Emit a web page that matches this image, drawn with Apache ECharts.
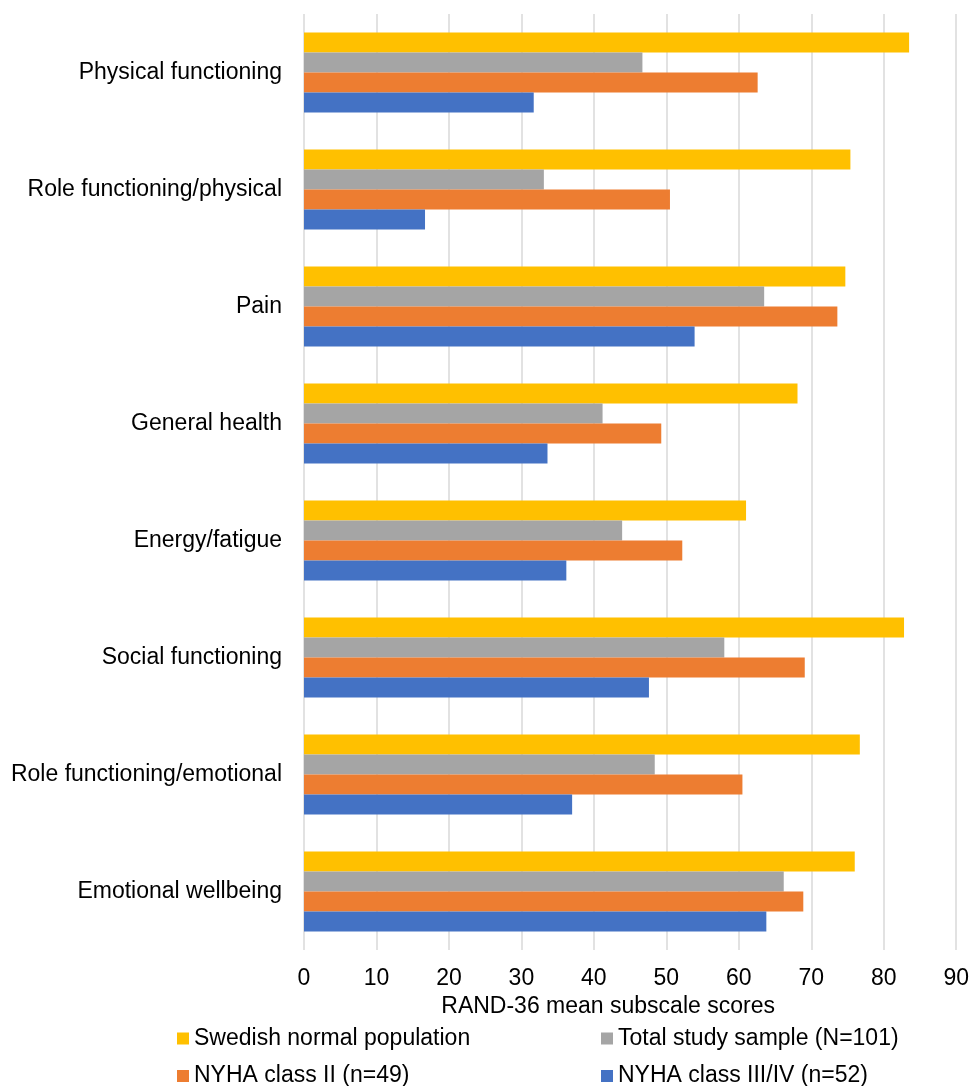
<!DOCTYPE html>
<html>
<head>
<meta charset="utf-8">
<script src="https://cdn.jsdelivr.net/npm/echarts@6/dist/echarts.min.js"></script>
<style>
html,body{margin:0;padding:0;background:#fff;}
#chart{width:972px;height:1086px;}
</style>
</head>
<body>
<div id="chart"></div>
<script>
const categories = [
  'Physical functioning',
  'Role functioning/physical',
  'Pain',
  'General health',
  'Energy/fatigue',
  'Social functioning',
  'Role functioning/emotional',
  'Emotional wellbeing'
];
const seriesNames = [
  'Swedish normal population',
  'Total study sample (N=101)',
  'NYHA class II (n=49)',
  'NYHA class III/IV (n=52)'
];
const swedishNormal = [83.5, 75.4, 74.7, 68.1, 61.0, 82.8, 76.7, 76.0];
const totalSample   = [46.7, 33.1, 63.5, 41.2, 43.9, 58.0, 48.4, 66.2];
const nyhaII        = [62.6, 50.5, 73.6, 49.3, 52.2, 69.1, 60.5, 68.9];
const nyhaIIIIV     = [31.7, 16.7, 53.9, 33.6, 36.2, 47.6, 37.0, 63.8];
const xTicks = [0, 10, 20, 30, 40, 50, 60, 70, 80, 90];
const colors = ['#FFC000', '#A5A5A5', '#ED7D31', '#4472C4'];
const values = [swedishNormal, totalSample, nyhaII, nyhaIIIIV];

const font = 'Liberation Sans, Arial, sans-serif';
const FS = 23;
const legendPos = [
  { left: 177, top: 1027 },
  { left: 601, top: 1027 },
  { left: 177, top: 1064.5 },
  { left: 601, top: 1064.5 }
];
const chart = echarts.init(document.getElementById('chart'));
chart.setOption({
  animation: false,
  textStyle: { fontFamily: font },
  grid: { left: 304, right: 14, top: 14, bottom: 136, containLabel: false },
  legend: seriesNames.map((n, i) => ({
    data: [n],
    left: legendPos[i].left, top: legendPos[i].top, padding: 0,
    icon: 'rect', itemWidth: 12, itemHeight: 12,
    textStyle: { fontSize: FS, color: '#000', fontFamily: font, lineHeight: FS, padding: [0, 0, 0, 0] }
  })),
  xAxis: {
    type: 'value', min: xTicks[0], max: xTicks[xTicks.length - 1], interval: 10,
    name: 'RAND-36 mean subscale scores',
    nameLocation: 'middle', nameGap: 39.5,
    nameTextStyle: { fontSize: FS, color: '#000', fontFamily: font, lineHeight: FS, padding: [0, 44, 0, 0] },
    axisLine: { show: false }, axisTick: { show: false },
    axisLabel: { fontSize: FS, color: '#000', margin: 17, lineHeight: FS, fontFamily: font },
    splitLine: { show: true, lineStyle: { color: '#D9D9D9', width: 1.5 } }
  },
  yAxis: {
    type: 'category', data: categories, inverse: true,
    axisLine: { show: false }, axisTick: { show: false },
    axisLabel: { fontSize: FS, color: '#000', margin: 22, fontFamily: font },
    splitLine: { show: false }
  },
  series: seriesNames.map((n, i) => ({
    name: n, type: 'bar', data: values[i],
    barWidth: 20, barGap: '0%',
    itemStyle: { color: colors[i] }
  }))
});
</script>
</body>
</html>
